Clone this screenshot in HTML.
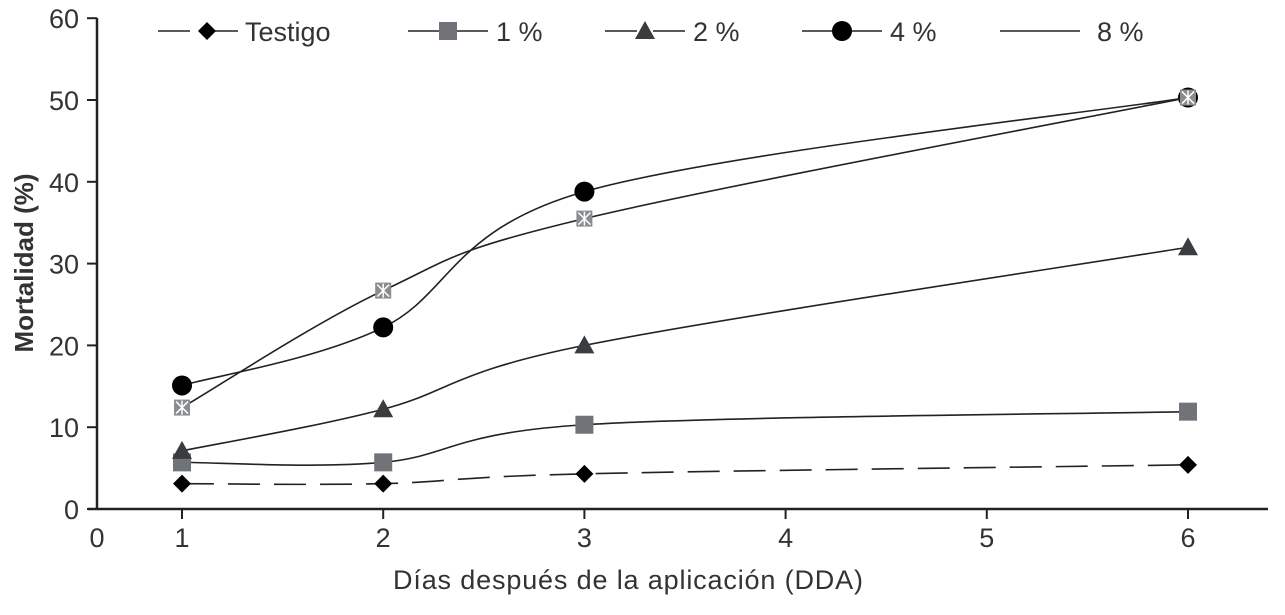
<!DOCTYPE html>
<html><head><meta charset="utf-8"><style>
body{margin:0;background:#fff;}
svg text{font-family:"Liberation Sans",sans-serif;fill:#333;}
</style></head><body>
<svg id="chart" width="1285" height="610" xmlns="http://www.w3.org/2000/svg">
<g id="axes"></g><g id="series"></g><g id="legend"></g>
</svg>
<script>
const xCats=[1,2,3,6];
const xTicks=[1,2,3,4,5,6];
const yTicks=[0,10,20,30,40,50,60];
const testigo=[3.1,3.1,4.3,5.4];
const p1=[5.7,5.7,10.3,11.9];
const p2=[7.1,12.2,20,32];
const p4=[15.1,22.2,38.8,50.3];
const p8=[12.4,26.7,35.5,50.3];
const seriesNames=["Testigo","1 %","2 %","4 %","8 %"];
const NS="http://www.w3.org/2000/svg";
const svg=document.getElementById('chart');
const X=v=>182+(v-1)*201.2;
const Y=v=>509-v*8.18;
function el(t,a,p){const e=document.createElementNS(NS,t);for(const k in a)e.setAttribute(k,a[k]);p.appendChild(e);return e;}
const ax=document.getElementById('axes');
let l=el('line',{x1:97,y1:18,x2:97,y2:510,stroke:'#222','stroke-width':2.5},ax);

l=el('line',{x1:88,y1:509,x2:1268,y2:509,stroke:'#222','stroke-width':2.5},ax);

yTicks.forEach(v=>{el('line',{x1:87,x2:97,y1:Y(v),y2:Y(v),stroke:'#222','stroke-width':2},ax);
 const t=el('text',{x:79,y:Y(v)+10,'text-anchor':'end','font-size':27},ax);t.textContent=v;
 });
let t0=el('text',{x:97,y:547,'text-anchor':'middle','font-size':27},ax);t0.textContent='0';

xTicks.forEach(v=>{el('line',{x1:X(v),x2:X(v),y1:509,y2:519,stroke:'#222','stroke-width':2},ax);
 const t=el('text',{x:X(v),y:547,'text-anchor':'middle','font-size':27},ax);t.textContent=v;
 });
let yt=el('text',{x:0,y:0,'text-anchor':'middle','font-size':26,'font-weight':'bold',transform:'translate(33,263) rotate(-90)'},ax);
yt.textContent='Mortalidad (%)';
let xt=el('text',{x:628,y:589,'text-anchor':'middle','font-size':27,'textLength':470},ax);
xt.textContent='Días después de la aplicación (DDA)';
function smooth(pts){let d=`M${pts[0][0]},${pts[0][1]}`;
 for(let i=0;i<pts.length-1;i++){const p0=pts[i-1]||pts[i],p1=pts[i],p2=pts[i+1],p3=pts[i+2]||p2;
  d+=` C${p1[0]+(p2[0]-p0[0])/6},${p1[1]+(p2[1]-p0[1])/6} ${p2[0]-(p3[0]-p1[0])/6},${p2[1]-(p3[1]-p1[1])/6} ${p2[0]},${p2[1]}`;}return d;}
function marker(type,x,y,g){
 if(type===0)return el('polygon',{points:`${x},${y-9} ${x+9},${y} ${x},${y+9} ${x-9},${y}`,fill:'#000'},g);
 if(type===1)return el('rect',{x:x-9,y:y-9,width:18,height:18,fill:'#707478'},g);
 if(type===2)return el('polygon',{points:`${x},${y-10} ${x+10},${y+8} ${x-10},${y+8}`,fill:'#3a3d40'},g);
 if(type===3)return el('circle',{cx:x,cy:y,r:10,fill:'#000'},g);
 const gg=el('g',{},g);el('rect',{x:x-8,y:y-8,width:16,height:16,fill:'#8a8d90'},gg);
 el('path',{d:`M${x-6},${y-6}L${x+6},${y+6}M${x+6},${y-6}L${x-6},${y+6}M${x},${y-7}L${x},${y+7}`,stroke:'#fff','stroke-width':1.5},gg);return gg;}
const sg=document.getElementById('series');
const all=[testigo,p1,p2,p4,p8];
all.forEach((s,k)=>{const g=el('g',{},sg);
 
 const pts=s.map((v,i)=>[X(xCats[i]),Y(v)]);
 const p=el('path',{d:smooth(pts),fill:'none',stroke:'#222','stroke-width':1.6},g);
 if(k===0)p.setAttribute('stroke-dasharray','32,14');
 
 pts.forEach(q=>{const m=marker(k,q[0],q[1],g);});
});
const lg=document.getElementById('legend');
const lx=[158,408,605,802,1000];
seriesNames.forEach((n,k)=>{const g=el('g',{},lg);
 
 const y=31;
 if(k<4){el('line',{x1:lx[k],x2:lx[k]+32,y1:y,y2:y,stroke:'#222','stroke-width':1.6},g);
  el('line',{x1:lx[k]+48,x2:lx[k]+80,y1:y,y2:y,stroke:'#222','stroke-width':1.6},g);
  marker(k,lx[k]+40+(k===0?9:0),y,g);}
 else el('line',{x1:lx[k],x2:lx[k]+80,y1:y,y2:y,stroke:'#222','stroke-width':1.6},g);
 const t=el('text',{x:lx[k]+(k===0?87:k===4?97:88),y:y+10,'font-size':27},g);t.textContent=n;});
</script>
</body></html>
